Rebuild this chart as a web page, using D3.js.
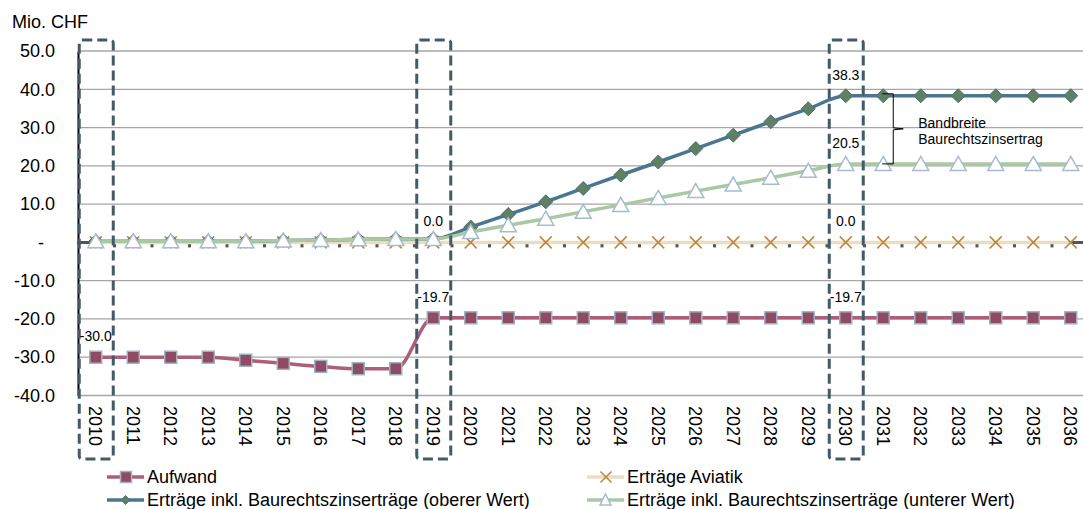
<!DOCTYPE html>
<html>
<head>
<meta charset="utf-8">
<script src="https://cdn.jsdelivr.net/npm/d3@7/dist/d3.min.js"></script>
<style>
  body { margin: 0; background: #fff; }
  text { font-family: "Liberation Sans", Arial, sans-serif; fill: #000; }
</style>
</head>
<body>
<svg id="chart" width="1083" height="509"></svg>
<script>
var years = ["2010","2011","2012","2013","2014","2015","2016","2017","2018","2019","2020","2021","2022","2023",
             "2024","2025","2026","2027","2028","2029","2030","2031","2032","2033","2034","2035","2036"];
var aufwand = [-30.0,-30.0,-30.0,-30.0,-30.8,-31.6,-32.4,-33.0,-33.0,-19.7,-19.7,-19.7,-19.7,-19.7,
               -19.7,-19.7,-19.7,-19.7,-19.7,-19.7,-19.7,-19.7,-19.7,-19.7,-19.7,-19.7,-19.7];
var aviatik = [0,0,0,0,0,0,0,0,0,0,0,0,0,0,0,0,0,0,0,0,0,0,0,0,0,0,0];
var oberer = [0.3,0.3,0.3,0.3,0.3,0.5,0.6,0.8,0.9,0.9,4.0,7.3,10.6,14.1,
              17.6,21.0,24.5,28.0,31.5,34.9,38.3,38.3,38.3,38.3,38.3,38.3,38.3];
var unterer = [0.3,0.3,0.3,0.3,0.3,0.5,0.6,0.8,0.9,0.9,2.7,4.5,6.2,8.0,
               9.8,11.6,13.4,15.1,16.9,18.7,20.5,20.5,20.5,20.5,20.5,20.5,20.5];
var yTicks = [50,40,30,20,10,0,-10,-20,-30,-40];

// labelled values inside the dashed boxes
var labelYears = ["2010","2019","2019","2030","2030","2030","2030"];
var labelValues = [-30.0, 0.0, -19.7, 38.3, 20.5, 0.0, -19.7];
var boxYears = ["2010","2019","2030"];

var svg = d3.select("#chart");

var x = d3.scaleBand().domain(years).range([77, 1089.5]);
var y = d3.scaleLinear().domain([-40, 50]).range([395.5, 51]);
var xc = function(d) { return x(d) + x.bandwidth() / 2; };

// gridlines
svg.append("g").selectAll("line")
    .data(yTicks)
    .enter().append("line")
      .attr("x1", 78).attr("x2", 1083)
      .attr("y1", function(d) { return y(d); })
      .attr("y2", function(d) { return y(d); })
      .attr("stroke", "#a6a6a6")
      .attr("stroke-width", 1.3);

// y axis
var yAxis = svg.append("g")
    .attr("transform", "translate(78,0)")
    .call(d3.axisLeft(y).tickValues(yTicks).tickSize(0).tickPadding(23)
      .tickFormat(function(d) { return d === 0 ? "-" : d.toFixed(1); }));
yAxis.select(".domain").attr("stroke", "#000").attr("stroke-width", 2);
yAxis.selectAll("text").style("font-size", "18px").style("font-family", "Liberation Sans, Arial, sans-serif");
yAxis.selectAll(".tick").filter(function(d) { return d === 0; }).select("text").attr("dx", -11);

svg.append("text")
    .attr("x", 12).attr("y", 28)
    .style("font-size", "18px")
    .text("Mio. CHF");

// category axis at zero
var y0 = y(0);
svg.append("line")
    .attr("x1", 77).attr("x2", 1083)
    .attr("y1", y0).attr("y2", y0)
    .attr("stroke", "#555").attr("stroke-width", 3);
svg.append("g").selectAll("line")
    .data(d3.range(1, years.length + 1))
    .enter().append("line")
      .attr("x1", function(k) { return 77 + k * x.step(); })
      .attr("x2", function(k) { return 77 + k * x.step(); })
      .attr("y1", y0).attr("y2", y0 + 5)
      .attr("stroke", "#555").attr("stroke-width", 3);

// year labels, rotated
svg.append("g").selectAll("text")
    .data(years)
    .enter().append("text")
      .attr("transform", function(d) { return "translate(" + xc(d) + ",406) rotate(90)"; })
      .attr("dy", "0.35em")
      .style("font-size", "18px")
      .text(function(d) { return d; });

// series
var lineGen = function(vals) {
  return d3.line()
      .x(function(d, i) { return xc(years[i]); })
      .y(function(d) { return y(d); })
      .curve(d3.curveMonotoneX)(vals);
};

svg.append("path").attr("d", lineGen(aufwand))
    .attr("fill", "none").attr("stroke", "#ad5f79").attr("stroke-width", 3.5);
svg.append("g").selectAll("rect")
    .data(aufwand)
    .enter().append("rect")
      .attr("x", function(d, i) { return xc(years[i]) - 6; })
      .attr("y", function(d) { return y(d) - 6; })
      .attr("width", 12).attr("height", 12)
      .attr("fill", "#8e4b63").attr("stroke", "#9fb4c2").attr("stroke-width", 1.5);

svg.append("path").attr("d", lineGen(aviatik))
    .attr("fill", "none").attr("stroke", "#ecdcc1").attr("stroke-width", 3.5);
svg.append("g").selectAll("path")
    .data(aviatik)
    .enter().append("path")
      .attr("d", function(d, i) {
        var cx = xc(years[i]), cy = y(d), s = 6;
        return "M" + (cx - s) + "," + (cy - s) + "L" + (cx + s) + "," + (cy + s) +
               "M" + (cx - s) + "," + (cy + s) + "L" + (cx + s) + "," + (cy - s);
      })
      .attr("stroke", "#b9873d").attr("stroke-width", 1.5).attr("fill", "none");

svg.append("path").attr("d", lineGen(oberer))
    .attr("fill", "none").attr("stroke", "#4b7691").attr("stroke-width", 3.5);
svg.append("g").selectAll("path")
    .data(oberer)
    .enter().append("path")
      .attr("d", function(d, i) {
        var cx = xc(years[i]), cy = y(d), s = 7;
        return "M" + cx + "," + (cy - s) + "L" + (cx + s) + "," + cy + "L" + cx + "," + (cy + s) + "L" + (cx - s) + "," + cy + "Z";
      })
      .attr("fill", "#5f8063").attr("stroke", "#4e7079").attr("stroke-width", 1);

svg.append("path").attr("d", lineGen(unterer))
    .attr("fill", "none").attr("stroke", "#a9c8a3").attr("stroke-width", 3.5);
svg.append("g").selectAll("path")
    .data(unterer)
    .enter().append("path")
      .attr("d", function(d, i) {
        var cx = xc(years[i]), cy = y(d);
        return "M" + cx + "," + (cy - 7.5) + "L" + (cx + 8) + "," + (cy + 6.5) + "L" + (cx - 8) + "," + (cy + 6.5) + "Z";
      })
      .attr("fill", "#fff").attr("stroke", "#a6bccc").attr("stroke-width", 1.5);

// dashed highlight boxes
svg.append("g").selectAll("rect")
    .data(boxYears)
    .enter().append("rect")
      .attr("x", function(d) { return xc(d) - 16.5; })
      .attr("y", 40)
      .attr("width", 34).attr("height", 419)
      .attr("rx", 3)
      .attr("fill", "none").attr("stroke", "#435a68")
      .attr("stroke-width", 3).attr("stroke-dasharray", "10,5");

// data labels
svg.append("g").selectAll("text")
    .data(labelValues)
    .enter().append("text")
      .attr("x", function(d, i) { return xc(labelYears[i]); })
      .attr("y", function(d) { return y(d) - 21; })
      .attr("dy", "0.35em")
      .attr("text-anchor", "middle")
      .style("font-size", "14px")
      .text(function(d) { return d.toFixed(1); });

// bracket for the range of the Baurechtszins
var bx = xc("2031"), bt = y(38.3) - 2, bb = y(20.5), bm = (bt + bb) / 2;
svg.append("path")
    .attr("d", "M" + (bx - 1) + "," + bt + "H" + (bx + 10) + "V" + (bm - 1) + "L" + (bx + 20) + "," + bm +
               "L" + (bx + 10) + "," + (bm + 1) + "V" + bb + "H" + (bx - 1))
    .attr("fill", "none").attr("stroke", "#000").attr("stroke-width", 1);
svg.append("text").attr("x", bx + 35).attr("y", bm - 1).style("font-size", "14px").text("Bandbreite");
svg.append("text").attr("x", bx + 35).attr("y", bm + 15).style("font-size", "14px").text("Baurechtszinsertrag");

// legend
var legend = [
  {name: "Aufwand", col: 0, row: 0, line: "#ad5f79", mark: "square"},
  {name: "Erträge Aviatik", col: 1, row: 0, line: "#ecdcc1", mark: "x"},
  {name: "Erträge inkl. Baurechtszinserträge (oberer Wert)", col: 0, row: 1, line: "#4b7691", mark: "diamond"},
  {name: "Erträge inkl. Baurechtszinserträge (unterer Wert)", col: 1, row: 1, line: "#a9c8a3", mark: "triangle"}
];
var lg = svg.append("g").selectAll("g")
    .data(legend)
    .enter().append("g")
      .attr("transform", function(d) { return "translate(" + (d.col ? 587 : 107) + "," + (d.row ? 500 : 477) + ")"; });
lg.append("line").attr("x1", 0).attr("x2", 37).attr("y1", 0).attr("y2", 0)
    .attr("stroke", function(d) { return d.line; }).attr("stroke-width", 3.5);
lg.append("path")
    .attr("d", function(d) {
      if (d.mark === "square") return "M13.5,-5.5h11v11h-11Z";
      if (d.mark === "x") return "M13.5,-5.5L24.5,5.5M13.5,5.5L24.5,-5.5";
      if (d.mark === "diamond") return "M18.5,-4.5L23,0L18.5,4.5L14,0Z";
      return "M18.5,-6L24,5H13Z";
    })
    .attr("fill", function(d) { return d.mark === "square" ? "#8e4b63" : d.mark === "diamond" ? "#5f8063" : d.mark === "triangle" ? "#fff" : "none"; })
    .attr("stroke", function(d) { return d.mark === "square" ? "#9fb4c2" : d.mark === "diamond" ? "#4e7079" : d.mark === "triangle" ? "#a6bccc" : "#b9873d"; })
    .attr("stroke-width", function(d) { return d.mark === "diamond" ? 1 : 1.5; });
lg.append("text")
    .attr("x", 40).attr("y", 6)
    .style("font-size", "18px")
    .text(function(d) { return d.name; });
</script>
</body>
</html>
